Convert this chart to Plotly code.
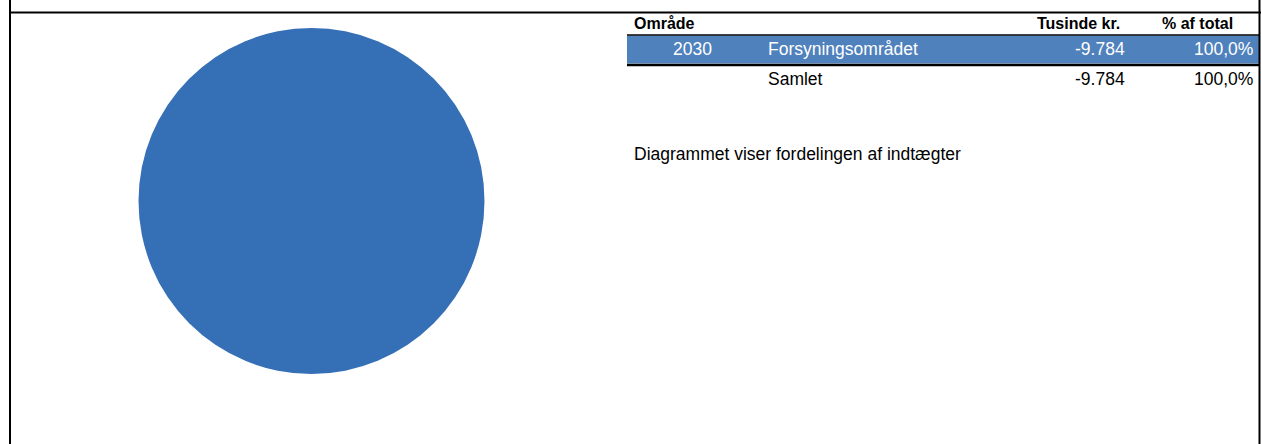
import plotly.graph_objects as go

W, H = 1261, 444

# Data
omraade_kode = ["2030"]
omraade_navn = ["Forsyningsområdet"]
tusinde_kr = [-9784]
pct_total = [100.0]
samlet_label = "Samlet"
beskrivelse = "Diagrammet viser fordelingen af indtægter"


def px(x):
    return x / W


def py(y):
    return 1 - y / H


def fmt_num(v):
    return f"{v:,.0f}".replace(",", ".")


def fmt_pct(v):
    return f"{v:.1f}".replace(".", ",") + "%"


fig = go.Figure()

# Cirkeldiagram (absolut værdi, da indtægter er negative)
fig.add_trace(go.Pie(
    labels=omraade_navn,
    values=[abs(v) for v in tusinde_kr],
    marker=dict(colors=["#356FB6"], line=dict(width=0)),
    textinfo="none",
    hoverinfo="skip",
    sort=False,
    showlegend=False,
    domain=dict(x=[px(138), px(485)], y=[py(374), py(28)]),
))

font = "Liberation Sans, Arial, sans-serif"
ann = []


def txt(x, y, s, anchor="left", color="black", bold=False, size=17.5):
    ann.append(dict(
        x=px(x), y=py(y), xref="paper", yref="paper",
        text=f"<b>{s}</b>" if bold else s,
        showarrow=False, xanchor=anchor, yanchor="middle",
        font=dict(family=font, size=size, color=color),
    ))


# Overskrift
txt(632, 23, "Område", bold=True, size=16)
txt(1122, 23, "Tusinde kr.", anchor="right", bold=True, size=16)
txt(1160, 23, "% af total", bold=True, size=16)

# Rækker
row_y = 49
for kode, navn, v, p in zip(omraade_kode, omraade_navn, tusinde_kr, pct_total):
    txt(692, row_y, kode, anchor="center", color="white")
    txt(766, row_y, navn, color="white")
    txt(1127, row_y, fmt_num(v), anchor="right", color="white")
    txt(1255, row_y, fmt_pct(p), anchor="right", color="white")
    row_y += 28

# Samlet
txt(766, 79, samlet_label)
txt(1127, 79, fmt_num(sum(tusinde_kr)), anchor="right")
txt(1255, 79, fmt_pct(sum(pct_total)), anchor="right")

txt(632, 154, beskrivelse)

shapes = [
    # blå række
    dict(type="rect", xref="paper", yref="paper", x0=px(627), x1=px(1259),
         y0=py(63.5), y1=py(35.5), fillcolor="#4F81BD", line=dict(width=0), layer="below"),
    # linjer
    dict(type="line", xref="paper", yref="paper", x0=px(627), x1=px(1259),
         y0=py(35), y1=py(35), line=dict(color="black", width=1.5)),
    dict(type="line", xref="paper", yref="paper", x0=px(627), x1=px(1259),
         y0=py(65), y1=py(65), line=dict(color="black", width=2.5)),
    # ramme
    dict(type="line", xref="paper", yref="paper", x0=px(9), x1=px(1261),
         y0=py(12.5), y1=py(12.5), line=dict(color="black", width=2)),
    dict(type="line", xref="paper", yref="paper", x0=px(10), x1=px(10),
         y0=0, y1=1, line=dict(color="black", width=2)),
    dict(type="line", xref="paper", yref="paper", x0=px(1259.5), x1=px(1259.5),
         y0=0, y1=1, line=dict(color="black", width=2)),
]

fig.update_layout(
    width=W, height=H,
    margin=dict(l=0, r=0, t=0, b=0),
    paper_bgcolor="white",
    plot_bgcolor="white",
    annotations=ann,
    shapes=shapes,
    font=dict(family=font),
)

fig.write_html("out.html", config={"displayModeBar": False},
               post_script="document.body.style.margin='0';document.body.style.overflow='hidden';")
